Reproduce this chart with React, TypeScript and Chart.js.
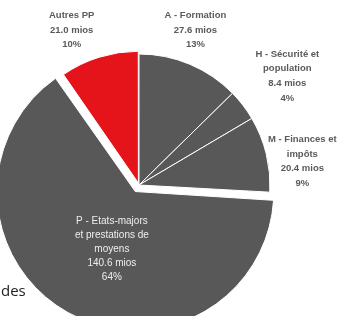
import React, { useEffect, useRef } from "react";
import { Chart, registerables } from "chart.js";

Chart.register(...registerables);

const categories = [
  "A - Formation",
  "H - Sécurité et population",
  "M - Finances et impôts",
  "P - Etats-majors et prestations de moyens",
  "Autres PP",
];
const values = [27.6, 8.4, 20.4, 140.6, 21.0];
const percentLabels = ["13%", "4%", "9%", "64%", "10%"];
const nameLines = [
  ["A - Formation"],
  ["H - Sécurité et", "population"],
  ["M - Finances et", "impôts"],
  ["P - Etats-majors", "et prestations de", "moyens"],
  ["Autres PP"],
];
const valueLabels = values.map((v) => v.toFixed(1) + " mios");

const GREY = "#585858";
const RED = "#e5141b";
const sliceColors = [GREY, GREY, GREY, GREY, RED];
// Chart.js translates an arc by offset / 4
const sliceOffsets = [0, 0, 0, 30, 8];
// label anchor relative to slice mid-angle: angle tweak (deg) and distance (px)
const labelAngleTweak = [-2.8, 1.2, 5.5, -7, -6.2];
const labelDist = [165, 184, 165, 62, 167];
const labelInside = [false, false, false, true, false];

const labelPlugin = {
  id: "sliceLabels",
  afterDatasetsDraw(chart: any) {
    const ctx = chart.ctx;
    const meta = chart.getDatasetMeta(0);
    meta.data.forEach((arc: any, i: number) => {
      const mid = (arc.startAngle + arc.endAngle) / 2;
      const off = sliceOffsets[i] / 4;
      const cx = arc.x + off * Math.cos(mid);
      const cy = arc.y + off * Math.sin(mid);
      const a = mid + (labelAngleTweak[i] * Math.PI) / 180;
      const x = cx + labelDist[i] * Math.cos(a);
      const y = cy + labelDist[i] * Math.sin(a);
      const lines = [...nameLines[i], valueLabels[i], percentLabels[i]];
      const inside = labelInside[i];
      const lh = inside ? 14 : 14.8;
      ctx.save();
      ctx.textAlign = "center";
      ctx.textBaseline = "middle";
      ctx.fillStyle = inside ? "#eeeeee" : "#5a5a5a";
      ctx.font = inside
        ? "10px 'Liberation Sans', Arial, sans-serif"
        : "bold 9.5px 'Liberation Sans', Arial, sans-serif";
      const y0 = y - ((lines.length - 1) * lh) / 2;
      lines.forEach((t, k) => ctx.fillText(t, x, y0 + k * lh));
      ctx.restore();
    });
  },
};

export default function App() {
  const ref = useRef<HTMLCanvasElement>(null);
  useEffect(() => {
    document.body.style.margin = "0";
    const chart = new Chart(ref.current!, {
      type: "pie",
      data: {
        labels: categories,
        datasets: [
          {
            data: values,
            backgroundColor: sliceColors,
            borderColor: "#ffffff",
            borderWidth: 1,
            offset: sliceOffsets,
          },
        ],
      },
      options: {
        animation: false,
        responsive: false,
        radius: 131,
        layout: { padding: { left: 0, right: 61, top: 54, bottom: 0 } },
        plugins: {
          legend: { display: false },
          tooltip: { enabled: false },
        },
      } as any,
      plugins: [labelPlugin],
    });
    return () => chart.destroy();
  }, []);
  return (
    <div style={{ position: "relative", width: 339, height: 316, overflow: "hidden" }}>
      <canvas ref={ref} width={339} height={316} style={{ display: "block" }} />
      <span
        style={{
          position: "absolute",
          left: 1,
          top: 280,
          fontFamily: "'Open Sans', sans-serif",
          fontSize: 15,
          color: "#222",
        }}
      >
        des
      </span>
    </div>
  );
}
